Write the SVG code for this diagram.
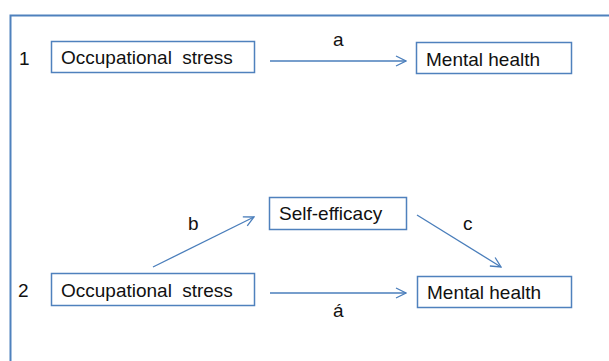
<svg xmlns="http://www.w3.org/2000/svg" width="609" height="361" viewBox="0 0 609 361">
<defs>
<style>
.box{fill:#fff;stroke:#4f81bd;stroke-width:1.5}
.t{font-family:"Liberation Sans",Arial,sans-serif;font-size:19px;fill:#111}
.c{stroke:#4a7ebb;stroke-width:1.3;fill:none;marker-end:url(#ah)}
</style>
<marker id="ah" viewBox="0 0 12 12" refX="11" refY="6" markerWidth="12" markerHeight="12" markerUnits="userSpaceOnUse" orient="auto">
<path d="M1,1 L11,6 L1,11" fill="none" stroke="#4a7ebb" stroke-width="1.3"/>
</marker>
</defs>
<rect width="609" height="361" fill="#fff"/>
<path d="M10.5,361 V15.5 H609" fill="none" stroke="#4f81bd" stroke-width="2"/>
<text class="t" x="19" y="65">1</text>
<text class="t" x="18" y="297">2</text>
<g id="occ1"><rect class="box" x="51.5" y="41.5" width="203" height="31"/><text class="t" x="61" y="64" word-spacing="5">Occupational stress</text></g>
<g id="mh1"><rect class="box" x="416.5" y="42.5" width="155" height="31"/><text class="t" x="426" y="66">Mental health</text></g>
<g id="se"><rect class="box" x="269.5" y="197.5" width="137" height="32"/><text class="t" x="279" y="220">Self-efficacy</text></g>
<g id="occ2"><rect class="box" x="51.5" y="273.5" width="203" height="32"/><text class="t" x="61" y="297" word-spacing="5">Occupational stress</text></g>
<g id="mh2"><rect class="box" x="417.5" y="276.5" width="154" height="31"/><text class="t" x="427" y="299">Mental health</text></g>
<g id="connectors">
<line class="c" x1="270" y1="61" x2="406" y2="61"/>
<line class="c" x1="153" y1="267" x2="254" y2="217"/>
<line class="c" x1="417" y1="215" x2="501" y2="267"/>
<line class="c" x1="270" y1="293" x2="406" y2="293"/>
<text class="t" x="333" y="46">a</text>
<text class="t" x="188" y="230">b</text>
<text class="t" x="463" y="230">c</text>
<text class="t" x="333" y="317">á</text>
</g>
</svg>
